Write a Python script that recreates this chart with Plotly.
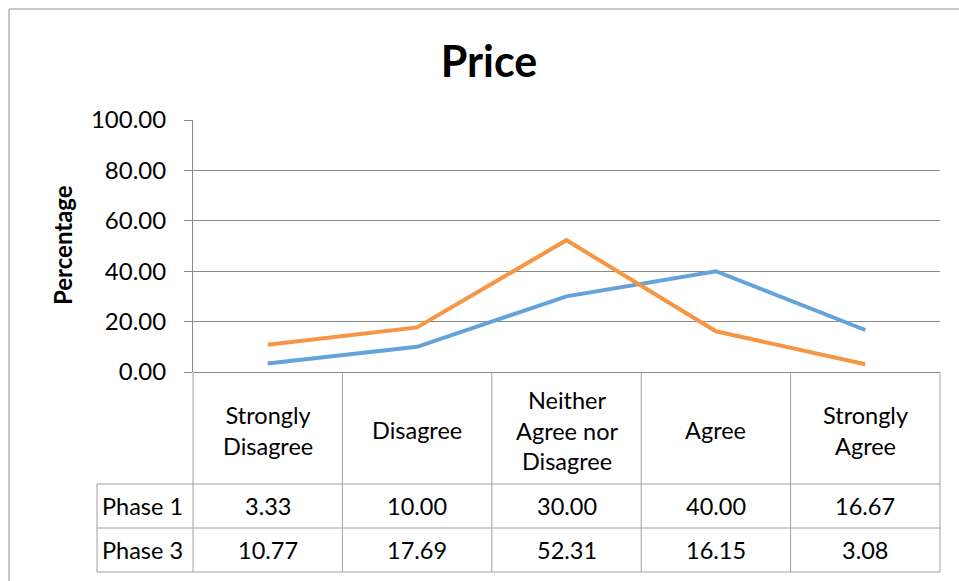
import plotly.graph_objects as go

# Survey responses on price, percentage of respondents per phase
categories = ["Strongly Disagree", "Disagree", "Neither Agree nor Disagree", "Agree", "Strongly Agree"]
header_labels = ["Strongly<br>Disagree", "Disagree", "Neither<br>Agree nor<br>Disagree", "Agree", "Strongly<br>Agree"]
series_names = ["Phase 1", "Phase 3"]
phase1 = [3.33, 10.00, 30.00, 40.00, 16.67]
phase3 = [10.77, 17.69, 52.31, 16.15, 3.08]
y_ticks = [0, 20, 40, 60, 80, 100]

W, H = 959, 581
ML, MR, MT, MB = 193, 19, 120, 209
PW = W - ML - MR
PH = H - MT - MB

FONT = "Lato, 'Open Sans', sans-serif"
TXT = "#000000"
GRID = "#8a8a8a"
TABLE_LINE = "#a0a0a0"
colors = ["#62a3db", "#f69544"]


def px_to_py(py):
    """Pixel row (from top of page) -> paper y."""
    return (H - MB - py) / PH


def px_to_px(px):
    """Pixel column -> paper x."""
    return (px - ML) / PW


n = len(categories)
xs = list(range(n))

fig = go.Figure()
for name, vals, col in zip(series_names, [phase1, phase3], colors):
    fig.add_trace(go.Scatter(
        x=xs, y=vals, name=name, mode="lines",
        line=dict(color=col, width=4), hoverinfo="x+y+name",
    ))

# Table geometry (pixel rows)
header_top, header_bottom = 372, 484
row_bottoms = [528, 572]
label_left = 97

shapes = []
line = dict(color=TABLE_LINE, width=1)
# vertical cell borders in the header + value rows
for i in range(n + 1):
    xp = i / n
    shapes.append(dict(type="line", xref="paper", yref="paper",
                       x0=xp, x1=xp, y0=px_to_py(header_top), y1=px_to_py(row_bottoms[-1]), line=line))
# left border of the series-name column
shapes.append(dict(type="line", xref="paper", yref="paper",
                   x0=px_to_px(label_left), x1=px_to_px(label_left),
                   y0=px_to_py(header_bottom), y1=px_to_py(row_bottoms[-1]), line=line))
# horizontal borders
for py in [header_bottom] + row_bottoms:
    shapes.append(dict(type="line", xref="paper", yref="paper",
                       x0=px_to_px(label_left), x1=1, y0=px_to_py(py), y1=px_to_py(py), line=line))
# chart-area frame (top and left edges)
shapes.append(dict(type="line", xref="paper", yref="paper",
                   x0=px_to_px(9), x1=px_to_px(W + 5), y0=px_to_py(9), y1=px_to_py(9),
                   line=dict(color="#b4b4b4", width=1.5)))
shapes.append(dict(type="line", xref="paper", yref="paper",
                   x0=px_to_px(9), x1=px_to_px(9), y0=px_to_py(9), y1=px_to_py(H + 5),
                   line=dict(color="#b4b4b4", width=1.5)))

annotations = []
cell_font = dict(family=FONT, size=23.5, color=TXT)
# category header row
for i, lab in enumerate(header_labels):
    annotations.append(dict(xref="paper", yref="paper", x=(i + 0.5) / n,
                            y=px_to_py((header_top + header_bottom) / 2 + 2),
                            text=lab, showarrow=False, font=cell_font,
                            xanchor="center", yanchor="middle", align="center"))
# value rows
row_tops = [header_bottom] + row_bottoms[:-1]
for r, (name, vals) in enumerate(zip(series_names, [phase1, phase3])):
    yc = px_to_py((row_tops[r] + row_bottoms[r]) / 2)
    annotations.append(dict(xref="paper", yref="paper", x=px_to_px(label_left + 3), y=yc,
                            text=name, showarrow=False, font=cell_font,
                            xanchor="left", yanchor="middle"))
    for i, v in enumerate(vals):
        annotations.append(dict(xref="paper", yref="paper", x=(i + 0.5) / n, y=yc,
                                text=f"{v:.2f}", showarrow=False, font=cell_font,
                                xanchor="center", yanchor="middle"))
# y-axis title
annotations.append(dict(xref="paper", yref="paper", x=px_to_px(62), y=px_to_py(245),
                        text="<b>Percentage</b>", textangle=-90, showarrow=False,
                        font=dict(family=FONT, size=24, color=TXT),
                        xanchor="center", yanchor="middle"))

fig.update_layout(
    width=W, height=H,
    margin=dict(l=ML, r=MR, t=MT, b=MB, autoexpand=False),
    paper_bgcolor="white", plot_bgcolor="white",
    showlegend=False,
    title=dict(text="<b>Price</b>", x=489 / W, y=1 - 62 / H,
               xref="container", yref="container",
               xanchor="center", yanchor="middle",
               font=dict(family=FONT, size=43, color=TXT)),
    xaxis=dict(range=[-0.5, n - 0.5], showticklabels=False, showgrid=False,
               zeroline=False, showline=False, fixedrange=True),
    yaxis=dict(range=[0, 100], tickvals=y_ticks, tickformat=".2f",
               showgrid=True, gridcolor=GRID, gridwidth=1,
               zeroline=True, zerolinecolor=GRID, zerolinewidth=1,
               showline=True, linecolor=GRID, linewidth=1,
               ticks="outside", ticklen=8, tickcolor=GRID,
               ticklabelstandoff=13,
               tickfont=dict(family=FONT, size=24, color=TXT), fixedrange=True),
    shapes=shapes, annotations=annotations,
)

fig.write_html("out.html")
